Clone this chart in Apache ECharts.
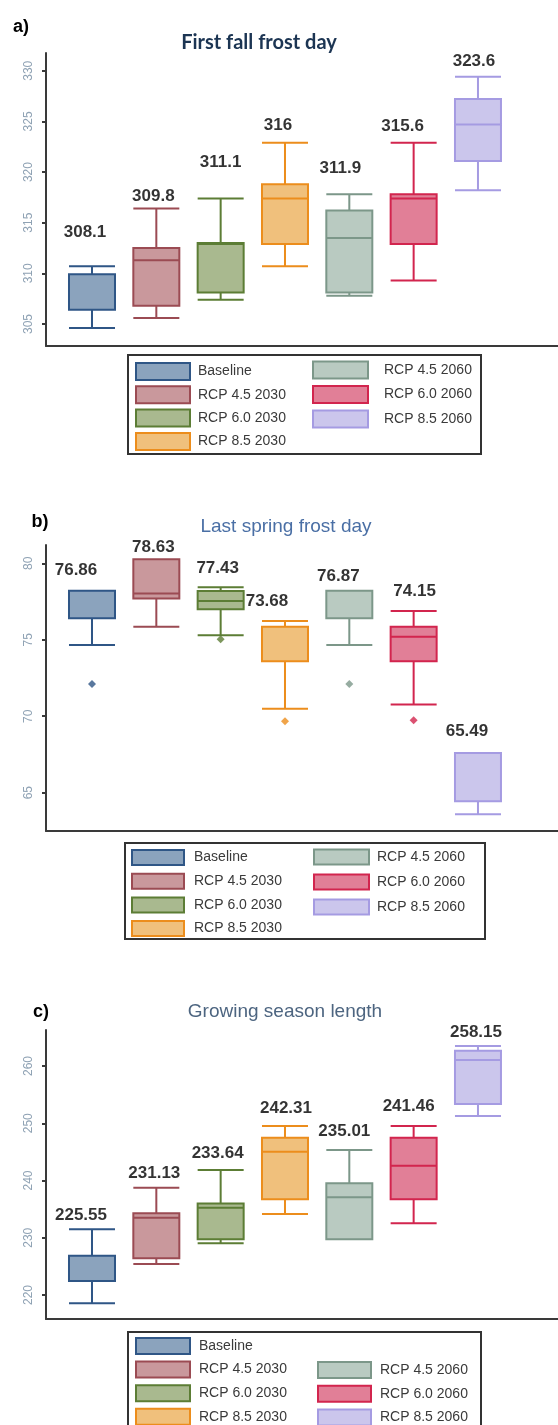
<!DOCTYPE html>
<html><head><meta charset="utf-8">
<script src="https://cdn.jsdelivr.net/npm/echarts@6/dist/echarts.min.js"></script>
<style>html,body{margin:0;padding:0;background:#fff}#c{width:558px;height:1425px}</style>
</head><body><div id="c"></div><script>
// ---------- DATA ----------
const categories = ['Baseline', 'RCP 4.5 2030', 'RCP 6.0 2030', 'RCP 8.5 2030', 'RCP 4.5 2060', 'RCP 6.0 2060', 'RCP 8.5 2060'];

// a) First fall frost day: [min, Q1, median, Q3, max]
const fallBoxes = [
  [304.6, 306.4, 306.4, 309.9, 310.7],
  [305.6, 306.8, 311.3, 312.5, 316.4],
  [307.4, 308.1, 312.9, 313.0, 317.4],
  [310.7, 312.9, 317.4, 318.8, 322.9],
  [307.8, 308.1, 313.5, 316.2, 317.8],
  [309.3, 312.9, 317.4, 317.8, 322.9],
  [318.2, 321.1, 324.7, 327.2, 329.4]
];
const fallMeans = [308.1, 309.8, 311.1, 316, 311.9, 315.6, 323.6];
const fallOutliers = [[], [], [], [], [], [], []];
const fallTicks = [305, 310, 315, 320, 325, 330];

// b) Last spring frost day
const springBoxes = [
  [74.65, 76.4, 76.4, 78.2, 78.2],
  [75.85, 77.7, 78.03, 80.26, 80.26],
  [75.3, 77.0, 77.53, 78.19, 78.43],
  [70.48, 73.6, 73.6, 75.85, 76.22],
  [74.65, 76.4, 76.4, 78.2, 78.2],
  [70.77, 73.6, 75.19, 75.85, 76.88],
  [63.58, 64.43, 64.43, 67.6, 67.6]
];
const springMeans = [76.86, 78.63, 77.43, 73.68, 76.87, 74.15, 65.49];
const springOutliers = [[72.1], [], [75.04], [69.67], [72.1], [69.74], []];
const springTicks = [65, 70, 75, 80];

// c) Growing season length
const seasonBoxes = [
  [218.55, 222.45, 222.45, 226.87, 231.48],
  [225.41, 226.41, 233.5, 234.27, 238.75],
  [229.03, 229.73, 235.25, 236.0, 241.83],
  [234.15, 236.72, 245.03, 247.48, 249.52],
  [229.73, 229.73, 237.06, 239.51, 245.33],
  [232.52, 236.72, 242.59, 247.48, 249.52],
  [251.27, 253.36, 261.05, 262.67, 263.49]
];
const seasonMeans = [225.55, 231.13, 233.64, 242.31, 235.01, 241.46, 258.15];
const seasonOutliers = [[], [], [], [], [], [], []];
const seasonTicks = [220, 230, 240, 250, 260];

// ---------- STYLE / LAYOUT ----------
const fills = ['#8ba3bd', '#c9989c', '#a9b98f', '#f0c07c', '#b9cac1', '#e17f97', '#cbc6ec'];
const borders = ['#2f5686', '#9b4b53', '#5c7d35', '#ec8d1c', '#7c9789', '#d2254e', '#a59be2'];
const FONT = '"Liberation Sans", Arial, sans-serif';

const panels = [
  { boxes: fallBoxes, means: fallMeans, outliers: fallOutliers, ticks: fallTicks,
    yMin: 302.83, yMax: 331.75, top: 53, height: 293,
    labelAt: [314.1, 317.57, 320.96, 324.58, 320.37, 324.55, 330.9],
    labelDx: [-7, -3, 0, -7, -9, -11, -4] },
  { boxes: springBoxes, means: springMeans, outliers: springOutliers, ticks: springTicks,
    yMin: 62.49, yMax: 81.2, top: 545, height: 286,
    labelAt: [79.56, 81.02, 79.67, 77.53, 79.17, 78.14, 69.04],
    labelDx: [-16, -3, -3, -18, -11, 1, -11] },
  { boxes: seasonBoxes, means: seasonMeans, outliers: seasonOutliers, ticks: seasonTicks,
    yMin: 215.81, yMax: 266.29, top: 1030, height: 289,
    labelAt: [233.97, 241.26, 244.75, 252.61, 248.52, 252.9, 265.82],
    labelDx: [-11, -2, -3, 1, -5, -5, -2] }
];

const grid = [], xAxis = [], yAxis = [], series = [];
panels.forEach((p, pi) => {
  grid.push({ left: 46, right: 0, top: p.top, height: p.height });
  yAxis.push({
    type: 'value', gridIndex: pi, min: p.yMin, max: p.yMax,
    axisLine: { show: true, onZero: false, lineStyle: { color: '#3a3a3a', width: 2 } },
    axisTick: { show: true, length: 4, customValues: p.ticks, lineStyle: { color: '#3a3a3a', width: 2 } },
    axisLabel: { customValues: p.ticks, rotate: 90, margin: 11, color: '#8fa2b4', fontSize: 12, fontFamily: FONT },
    splitLine: { show: false }
  });
  categories.forEach((c, i) => {
    xAxis.push({
      type: 'value', gridIndex: pi, min: -0.715, max: 7.244, show: i === 0,
      axisLine: { show: true, onZero: false, lineStyle: { color: '#3a3a3a', width: 2 } },
      axisTick: { show: false }, axisLabel: { show: false }, splitLine: { show: false }
    });
    const xi = pi * 7 + i;
    series.push({
      type: 'boxplot', name: c, xAxisIndex: xi, yAxisIndex: pi,
      boxWidth: [46, 46], silent: true,
      itemStyle: { color: fills[i], borderColor: borders[i], borderWidth: 2 },
      data: [[i].concat(p.boxes[i])]
    });
    if (p.outliers[i].length) {
      series.push({
        type: 'scatter', xAxisIndex: xi, yAxisIndex: pi, symbol: 'diamond', symbolSize: 8, silent: true,
        itemStyle: { color: borders[i] },
        data: p.outliers[i].map(v => [i, v])
      });
    }
  });
  series.push({
    type: 'scatter', xAxisIndex: pi * 7, yAxisIndex: pi, symbolSize: 0, silent: true,
    label: { show: true, position: 'inside', color: '#000', fontFamily: FONT, fontWeight: 'bold', fontSize: 17,
             textBorderWidth: 0, formatter: d => String(d.value[2]) },
    data: p.means.map((m, i) => ({ value: [i, p.labelAt[i], m], label: { offset: [p.labelDx[i], 0] } }))
  });
});

function legendCol(left, top, from, to, w, h, gap, pad) {
  return {
    orient: 'vertical', left, top, height: 400, padding: 0, itemWidth: w, itemHeight: h, itemGap: gap,
    icon: 'rect', selectedMode: false,
    data: categories.slice(from, to).map((name, k) => ({
      name, itemStyle: { color: fills[from + k], borderColor: borders[from + k], borderWidth: 2 }
    })),
    textStyle: { fontSize: 14, color: '#3a3a3a', fontFamily: FONT, padding: [0, 0, 0, pad] }
  };
}
const legend = [
  legendCol(135, 362, 0, 4, 54, 17, 4.3, 3),
  legendCol(312, 360.5, 4, 7, 55, 17, 5.5, 11),
  legendCol(131, 849, 0, 4, 52, 15, 6.7, 5),
  legendCol(313, 848.5, 4, 7, 55, 15, 8, 3),
  legendCol(135, 1337, 0, 4, 54, 16, 5.6, 4),
  legendCol(317, 1361, 4, 7, 53, 16, 5.8, 4)
];

function frame(x, y, w, h) {
  return { type: 'rect', shape: { x, y, width: w, height: h }, silent: true,
           style: { fill: 'none', stroke: '#333', lineWidth: 2 } };
}
function txt(x, y, text, font, fill) {
  return { type: 'text', x, y, silent: true,
           style: { text, font, fill, align: 'center', verticalAlign: 'middle' } };
}
const graphic = [
  frame(128, 355, 353, 99), frame(125, 843, 360, 96), frame(128, 1332, 353, 120),
  txt(21, 27, 'a)', 'bold 18px ' + FONT, '#000'),
  txt(259, 43, 'First fall frost day', 'bold 20px Lato, ' + FONT, '#1c3553'),
  txt(40, 522, 'b)', 'bold 18px ' + FONT, '#000'),
  txt(286, 527, 'Last spring frost day', '19px ' + FONT, '#4a6fa5'),
  txt(41, 1012, 'c)', 'bold 18px ' + FONT, '#000'),
  txt(285, 1012, 'Growing season length', '19px ' + FONT, '#4d6580')
];

const chart = echarts.init(document.getElementById('c'), null, { renderer: 'canvas' });
chart.setOption({ animation: false, backgroundColor: '#fff', grid, xAxis, yAxis, series, legend, graphic });
</script></body></html>
